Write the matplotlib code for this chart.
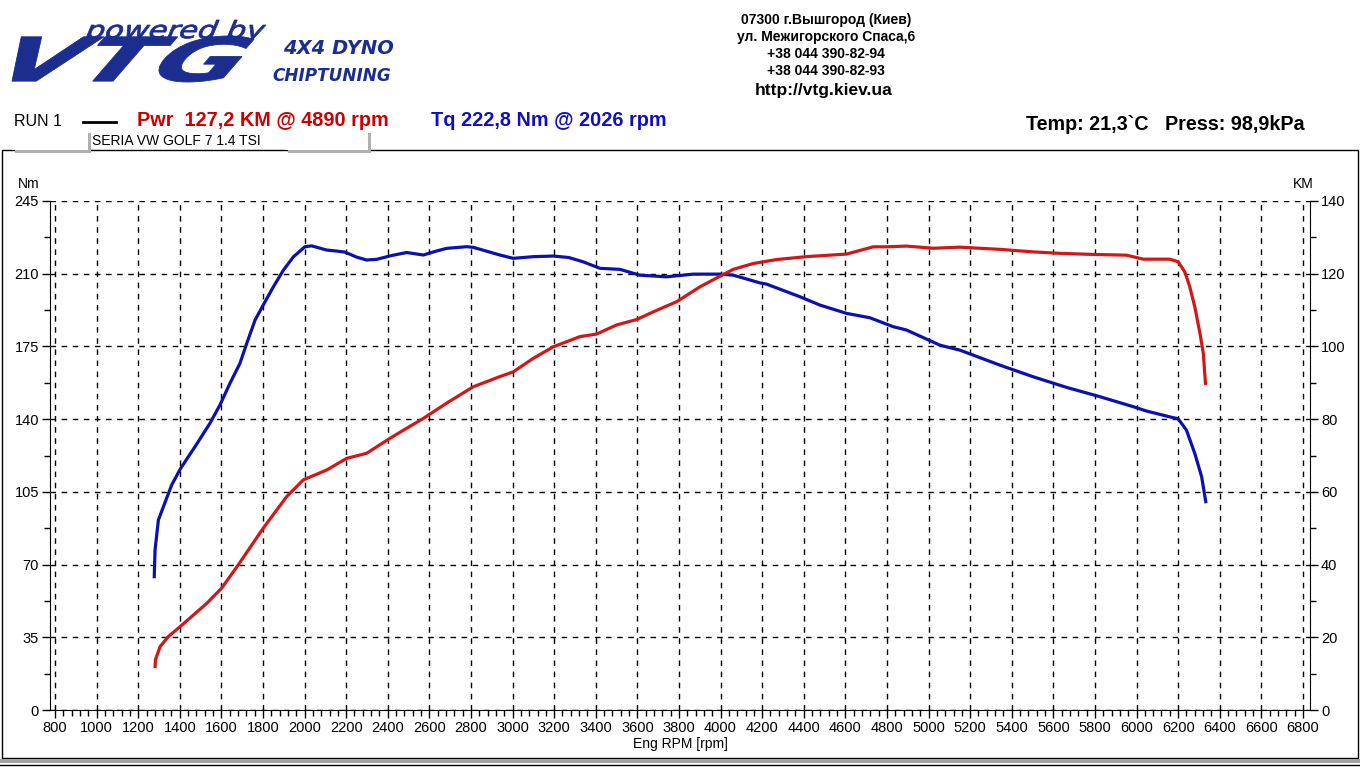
import matplotlib
matplotlib.use("Agg")
import matplotlib.pyplot as plt
from matplotlib.ticker import MultipleLocator
from matplotlib.textpath import TextPath
from matplotlib.patches import PathPatch, Rectangle
from matplotlib.font_manager import FontProperties
from matplotlib.transforms import Affine2D
from matplotlib.lines import Line2D

W, H = 1360, 768

# torque curve, Nm
tq_rpm = [1277, 1281, 1297, 1321, 1361, 1404, 1473, 1545, 1593, 1641, 1689, 1722,
          1762, 1801, 1850, 1898, 1946, 2002, 2034, 2106, 2154, 2194, 2250, 2298,
          2346, 2420, 2491, 2571, 2630, 2683, 2779, 2811, 2939, 3003, 3099, 3196,
          3270, 3340, 3420, 3516, 3612, 3740, 3869, 3997, 4061, 4189, 4221, 4382,
          4478, 4606, 4718, 4830, 4894, 5055, 5151, 5343, 5503, 5663, 5824, 5984,
          6048, 6176, 6200, 6240, 6280, 6313, 6334]
tq_nm = [63.4, 77.0, 91.4, 97.8, 108.3, 116.3, 126.7, 138.0, 146.8, 157.2, 166.8, 176.5,
         187.7, 194.9, 203.7, 211.7, 218.1, 223.0, 223.4, 221.4, 220.9, 220.4, 218.0, 216.6,
         216.9, 218.8, 220.2, 219.0, 220.8, 222.2, 223.0, 222.7, 219.0, 217.4, 218.2, 218.5,
         217.8, 215.7, 212.6, 212.1, 209.3, 208.5, 209.8, 209.8, 209.3, 205.6, 205.0, 198.9,
         194.9, 190.9, 188.8, 184.5, 182.9, 175.6, 173.2, 166.0, 160.4, 155.3, 150.8, 146.0,
         143.9, 140.7, 140.2, 134.7, 123.5, 112.3, 99.5]

# power curve, KM
pwr_rpm = [1281, 1283, 1305, 1345, 1401, 1529, 1601, 1681, 1801, 1914, 1994, 2106,
           2202, 2298, 2410, 2491, 2571, 2683, 2811, 2939, 3003, 3099, 3196, 3324,
           3404, 3500, 3597, 3676, 3789, 3901, 3997, 4061, 4157, 4270, 4414, 4606,
           4734, 4798, 4894, 5022, 5151, 5343, 5503, 5632, 5792, 5952, 6032, 6160,
           6200, 6232, 6256, 6280, 6305, 6321, 6332]
pwr_km = [11.5, 13.8, 17.4, 20.2, 22.9, 29.3, 33.5, 39.9, 50.0, 58.7, 63.3, 66.0,
          69.2, 70.6, 74.7, 77.5, 80.2, 84.4, 88.9, 91.7, 93.0, 96.7, 99.9, 102.7,
          103.4, 105.9, 107.4, 109.5, 112.3, 116.4, 119.3, 121.2, 122.8, 123.9, 124.7, 125.4,
          127.4, 127.4, 127.6, 127.0, 127.3, 126.7, 126.0, 125.6, 125.3, 125.1, 124.0, 124.0,
          123.3, 120.5, 116.4, 110.9, 103.6, 98.1, 89.4]

address = ["07300 г.Вышгород (Киев)", "ул. Межигорского Спаса,6",
           "+38 044 390-82-94", "+38 044 390-82-93"]

BLUE = "#0c10b0"
RED = "#d01818"
LOGO = "#1b2d8f"

plt.rcParams["font.family"] = ["Liberation Sans", "DejaVu Sans"]

fig = plt.figure(figsize=(W / 100, H / 100), dpi=100)
fig.patch.set_facecolor("white")


def fx(x, y):
    return x / W, 1 - y / H


def put(x, y, s, **kw):
    fig.text(*fx(x, y), s, **kw)


def logo_text(s, x0, y0, x1, y1, skew, weight="bold"):
    tp = TextPath((0, 0), s, size=100,
                  prop=FontProperties(family="DejaVu Sans", weight=weight))
    p = Affine2D().skew_deg(skew, 0).transform_path(tp)
    e = p.get_extents()
    tr = (Affine2D().translate(-e.x0, -e.y0)
          .scale((x1 - x0) / e.width, (y1 - y0) / e.height)
          .translate(x0, H - y1).scale(1 / 100))
    fig.add_artist(PathPatch(p, transform=tr + fig.dpi_scale_trans,
                             facecolor=LOGO, edgecolor=LOGO, lw=0.6))


# logo
logo_text("powered by", 84, 20, 266, 43, 18, weight="normal")
logo_text("VTG", 12, 36, 254, 82, 26, weight="bold")
put(283, 49, "4X4 DYNO", color=LOGO, fontsize=14, fontweight="bold",
    style="italic", va="center", family="DejaVu Sans")
put(272, 76, "CHIPTUNING", color=LOGO, fontsize=12.2, fontweight="bold",
    style="italic", va="center", family="DejaVu Sans")

# address block
for i, line in enumerate(address):
    put(826, 20 + i * 17, line, ha="center", va="center", fontsize=10,
        fontweight="bold")
put(824, 90, "http://vtg.kiev.ua", ha="center", va="center", fontsize=12.5,
    fontweight="bold")

# run legend
put(14, 121, "RUN 1", va="center", fontsize=11.5)
fig.add_artist(Line2D([83 / W, 116 / W], [1 - 122 / H, 1 - 122 / H],
                      color="black", lw=2))
put(137, 121, "Pwr  127,2 KM @ 4890 rpm", color="#cc0000", va="center",
    fontsize=14.3, fontweight="bold")
put(431, 121, "Tq 222,8 Nm @ 2026 rpm", color="#1010c0", va="center",
    fontsize=14.3, fontweight="bold")
put(1026, 124, "Temp: 21,3`C   Press: 98,9kPa", va="center", fontsize=14.2,
    fontweight="bold")

# outer frame
fig.add_artist(Rectangle(fx(2, 758), 1356 / W, 608 / H, fill=False,
                         edgecolor="black", lw=1, transform=fig.transFigure))
fig.add_artist(Rectangle(fx(0, 763), 1, 4 / H, facecolor="#a0a0a0",
                         edgecolor="none", transform=fig.transFigure))
fig.add_artist(Line2D([0, 1], [1 - 765 / H] * 2, color="black", lw=1))

# redaction boxes with shadow
for bx0, bx1 in [(12, 88), (285, 368)]:
    fig.add_artist(Rectangle(fx(bx0 + 3, 153), (bx1 - bx0) / W, 20 / H,
                             facecolor="#b0b0b0", edgecolor="none",
                             transform=fig.transFigure, zorder=5))
    fig.add_artist(Rectangle(fx(bx0, 150), (bx1 - bx0) / W, 20 / H,
                             facecolor="white", edgecolor="none",
                             transform=fig.transFigure, zorder=6))
put(92, 141, "SERIA VW GOLF 7 1.4 TSI", va="center", fontsize=10)

# chart
ax = fig.add_axes([50 / W, 1 - 710 / H, 1260 / W, 509 / H])
ax2 = ax.twinx()

ax.plot(tq_rpm, tq_nm, color=BLUE, lw=2.3, solid_capstyle="butt")
ax2.plot(pwr_rpm, pwr_km, color=RED, lw=2.3, solid_capstyle="butt")

ax.set_xlim(776, 6834)
ax.set_ylim(0, 245)
ax2.set_ylim(0, 140)

ax.xaxis.set_major_locator(MultipleLocator(200))
ax.xaxis.set_minor_locator(MultipleLocator(40))
ax.yaxis.set_major_locator(MultipleLocator(35))
ax.yaxis.set_minor_locator(MultipleLocator(17.5))
ax2.yaxis.set_major_locator(MultipleLocator(20))
ax2.yaxis.set_minor_locator(MultipleLocator(10))
ax.set_xticks(range(800, 6801, 200))

ax.grid(True, which="major", color="black", lw=1, linestyle=(0, (4, 4)))

for a in (ax, ax2):
    a.spines["top"].set_visible(False)
ax.spines["right"].set_visible(False)
ax2.spines["left"].set_visible(False)
ax2.spines["bottom"].set_visible(False)

ax.tick_params(axis="both", which="major", direction="out", length=6,
               width=1, labelsize=10.5, pad=2)
ax.tick_params(axis="both", which="minor", direction="out", length=4, width=1)
ax2.tick_params(axis="y", which="major", direction="out", length=6, width=1,
                labelsize=10.5, pad=2)
ax2.tick_params(axis="y", which="minor", direction="out", length=4, width=1)

put(29, 184, "Nm", ha="center", va="center", fontsize=10)
put(1303, 184, "KM", ha="center", va="center", fontsize=10)
put(680, 744, "Eng RPM [rpm]", ha="center", va="center", fontsize=10)

fig.savefig("out.png", dpi=100)
